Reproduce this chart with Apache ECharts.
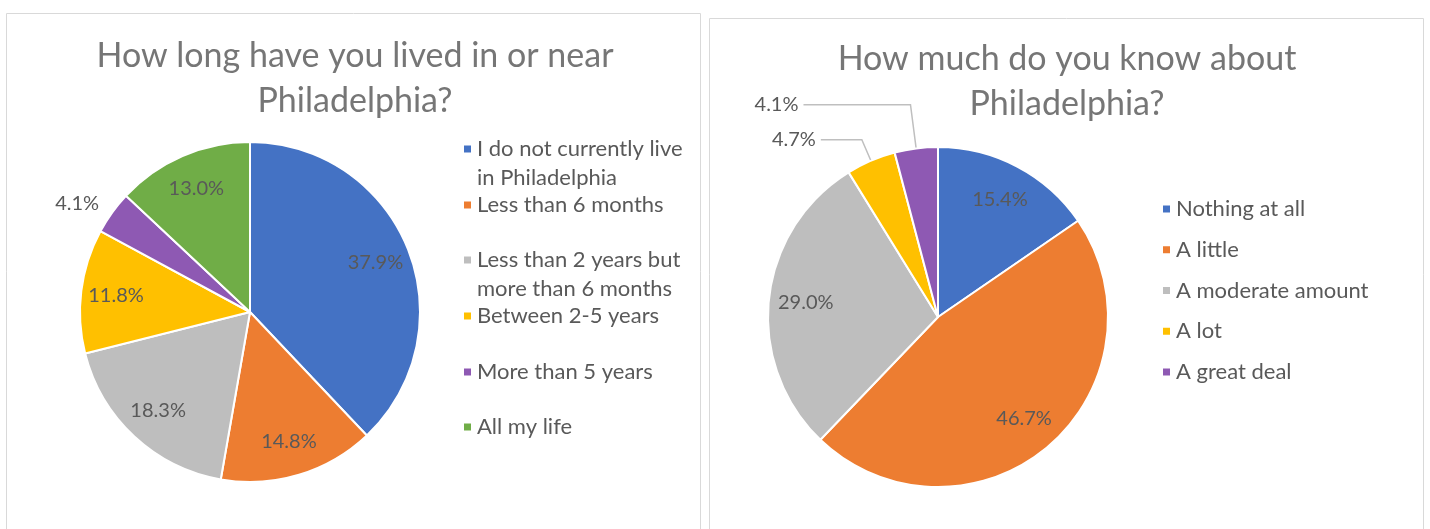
<!DOCTYPE html>
<html>
<head>
<meta charset="utf-8">
<script src="https://cdn.jsdelivr.net/npm/echarts@6/dist/echarts.min.js"></script>
<style>
  html, body { margin: 0; padding: 0; background: #fff; }
  #chart { width: 1430px; height: 529px; }
</style>
</head>
<body>
<div id="chart"></div>
<script>
// left chart: how long lived near Philadelphia
const livedTitle = 'How long have you lived in or near\nPhiladelphia?';
const livedNames = [
  'I do not currently live\nin Philadelphia',
  'Less than 6 months',
  'Less than 2 years but\nmore than 6 months',
  'Between 2-5 years',
  'More than 5 years',
  'All my life'
];
const livedValues = [37.9, 14.8, 18.3, 11.8, 4.1, 13.0];
const livedColors = ['#4472C4', '#ED7D31', '#BEBEBE', '#FFC000', '#8E59B3', '#70AD47'];

// right chart: how much do you know
const knowTitle = 'How much do you know about\nPhiladelphia?';
const knowNames = ['Nothing at all', 'A little', 'A moderate amount', 'A lot', 'A great deal'];
const knowValues = [15.4, 46.7, 29.0, 4.7, 4.1];
const knowColors = ['#4472C4', '#ED7D31', '#BEBEBE', '#FFC000', '#8E59B3'];

const FONT = 'Lato';
const TEXT = '#595959';

const chart = echarts.init(document.getElementById('chart'));

const fmt = p => p.value.toFixed(1) + '%';

// slices with an outside label, and the leader line settings for them
const livedOutside = { 4: { length: 16, length2: 0, show: false } };
const knowOutside = {
    3: { length: 23, length2: 41, show: true },
    4: { length: 44, length2: 107, show: true }
};

function mainData(names, values, colors, outside) {
    return names.map((n, i) => {
        const o = outside[i];
        const item = { name: n, value: values[i], itemStyle: { color: colors[i] } };
        if (o) {
            item.label = { show: true };
            item.labelLine = { show: o.show, length: o.length, length2: o.length2 };
        }
        return item;
    });
}

function innerData(names, values, outside) {
    return names.map((n, i) => ({
        name: n,
        value: values[i],
        label: { show: !outside[i] }
    }));
}

function pieSeries(center, names, values, colors, outside, lineGap, labelRadius) {
    return [
        {
            type: 'pie',
            center: center,
            radius: 170,
            startAngle: 90,
            avoidLabelOverlap: false,
            itemStyle: { borderColor: '#fff', borderWidth: 2 },
            label: {
                show: false,
                position: 'outside',
                formatter: fmt,
                color: TEXT,
                fontFamily: FONT,
                fontSize: 20,
                distanceToLabelLine: lineGap
            },
            labelLine: { lineStyle: { color: '#BFBFBF', width: 1.5 } },
            emphasis: { disabled: true },
            data: mainData(names, values, colors, outside)
        },
        {
            // invisible twin pie, only to put the inside labels further out
            type: 'pie',
            center: center,
            radius: labelRadius * 2,
            startAngle: 90,
            silent: true,
            itemStyle: { color: 'transparent' },
            label: {
                position: 'inside',
                formatter: fmt,
                color: TEXT,
                fontFamily: FONT,
                fontSize: 20
            },
            labelLine: { show: false },
            emphasis: { disabled: true },
            data: innerData(names, values, outside)
        }
    ];
}

// one legend per row on the left so the wrapped items keep their marker on the first line
const livedRows = [149, 205, 260, 316, 372, 427];
const LH = 29;
const leftLegends = livedNames.map((n, i) => {
    const twoLines = n.indexOf('\n') >= 0;
    return {
        orient: 'vertical',
        left: 462,
        top: twoLines ? livedRows[i] - LH * 1.5 : livedRows[i] - LH / 2,
        padding: 0,
        icon: 'rect',
        itemWidth: 9,
        itemHeight: 9,
        selectedMode: false,
        // a blank first line keeps the marker level with the first text line
        formatter: name => (name.indexOf('\n') >= 0 ? ' \n' + name : name),
        textStyle: {
            color: TEXT,
            fontFamily: FONT,
            fontSize: 22,
            lineHeight: LH
        },
        data: [n]
    };
});

const rightLegend = {
    orient: 'vertical',
    left: 1161,
    top: 197,
    padding: 0,
    icon: 'rect',
    itemWidth: 9,
    itemHeight: 9,
    itemGap: 16.75,
    selectedMode: false,
    textStyle: { color: TEXT, fontFamily: FONT, fontSize: 22, lineHeight: 24 },
    data: knowNames
};

const titleStyle = { color: '#767676', fontFamily: FONT, fontSize: 34, fontWeight: 'normal', lineHeight: 45 };

const option = {
    animation: false,
    title: [
        { text: livedTitle, left: 355, top: 34, textAlign: 'center', padding: 0, textStyle: titleStyle },
        { text: knowTitle, left: 1067, top: 37, textAlign: 'center', padding: 0, textStyle: titleStyle }
    ],
    legend: leftLegends.concat([rightLegend]),
    graphic: [
        { type: 'rect', shape: { x: 6.5, y: 13.5, width: 694, height: 540 }, style: { fill: 'none', stroke: '#D9D9D9', lineWidth: 1 } },
        { type: 'rect', shape: { x: 709.5, y: 18.5, width: 714, height: 540 }, style: { fill: 'none', stroke: '#D9D9D9', lineWidth: 1 } }
    ],
    series: pieSeries([250, 312], livedNames, livedValues, livedColors, livedOutside, 0, 132)
        .concat(pieSeries([938, 317], knowNames, knowValues, knowColors, knowOutside, 5, 130))
};

chart.setOption(option);
</script>
</body>
</html>
